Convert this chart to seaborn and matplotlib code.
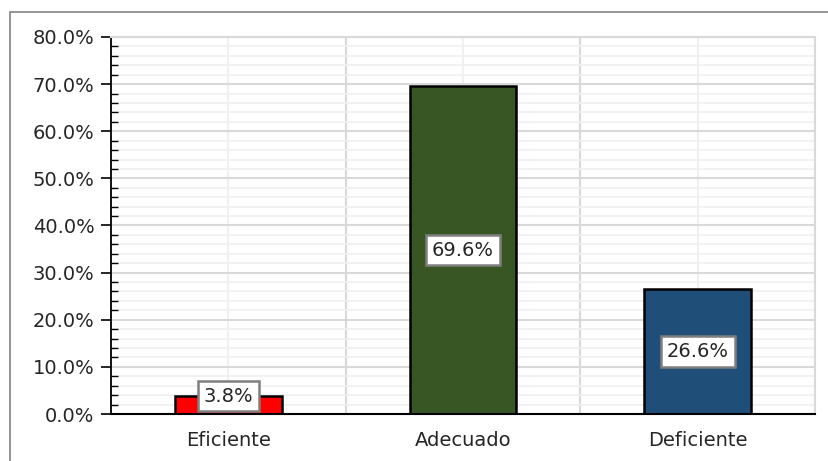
import matplotlib
matplotlib.use("Agg")
import matplotlib.pyplot as plt
import seaborn as sns
import pandas as pd
from matplotlib.ticker import MultipleLocator, FuncFormatter
from matplotlib.patches import Rectangle

categories = ["Eficiente", "Adecuado", "Deficiente"]
values = [3.8, 69.6, 26.6]
colors = ["#FF0000", "#375623", "#1F4E79"]
label_text = ["3.8%", "69.6%", "26.6%"]

df = pd.DataFrame({"cat": categories, "val": values})

sns.set_theme(style="white")
plt.rcParams['font.family'] = ['DejaVu Sans']

fig = plt.figure(figsize=(8.29, 4.61), dpi=100)
ax = fig.add_axes([111/829, 1-414/461, (815-111)/829, (414-37)/461])

# outer frame
fig.patches.append(Rectangle((10/829, -0.1), 1.2, (1-12/461)+0.1, transform=fig.transFigure,
                             fill=False, edgecolor="#8C8C8C", linewidth=1.3, zorder=0))

sns.barplot(data=df, x="cat", y="val", hue="cat", palette=colors, order=categories,
            width=0.455, saturation=1, edgecolor="black", linewidth=1.8, legend=False, ax=ax, zorder=3)

ax.set_ylim(0, 80)
ax.set_xlim(-0.5, 2.5)
ax.yaxis.set_major_locator(MultipleLocator(10))
ax.yaxis.set_minor_locator(MultipleLocator(2))
ax.yaxis.set_major_formatter(FuncFormatter(lambda v, p: f"{v:.1f}%"))
ax.set_xticks(range(3))
ax.set_xticklabels(categories)
ax.set_xticks([0.5, 1.5, 2.5], minor=True)

ax.grid(which="major", axis="y", color="#D9D9D9", linewidth=1.5, zorder=0)
ax.grid(which="minor", axis="y", color="#F0F0F0", linewidth=1.2, zorder=0)
ax.grid(which="major", axis="x", color="#F0F0F0", linewidth=1.5, zorder=0)
ax.grid(which="minor", axis="x", color="#D9D9D9", linewidth=1.5, zorder=0)
ax.set_axisbelow(True)

for s in ["top", "right"]:
    ax.spines[s].set_visible(True)
    ax.spines[s].set_color("#D9D9D9")
    ax.spines[s].set_linewidth(1.5)
ax.spines["left"].set_color("black")
ax.spines["left"].set_linewidth(1.3)
ax.spines["bottom"].set_color("black")
ax.spines["bottom"].set_linewidth(1.5)
ax.spines["bottom"].set_zorder(5)

ax.tick_params(axis="y", which="major", direction="out", length=7, width=1.2, color="black",
               labelsize=14, labelcolor="#262626", left=True, pad=5)
ax.tick_params(axis="y", which="minor", direction="in", length=5, width=1.0, color="black", left=True)
ax.tick_params(axis="x", which="both", length=0, labelsize=14, labelcolor="#262626", pad=12)
ax.set_xlabel("")
ax.set_ylabel("")

for i, (v, t) in enumerate(zip(values, label_text)):
    y = v if v < 8 else v / 2
    ax.text(i, y, t, ha="center", va="center", fontsize=14, color="#262626", zorder=6,
            bbox=dict(boxstyle="square,pad=0.3", facecolor="white", edgecolor="#7F7F7F", linewidth=1.8))

fig.savefig("out.png", dpi=100)
